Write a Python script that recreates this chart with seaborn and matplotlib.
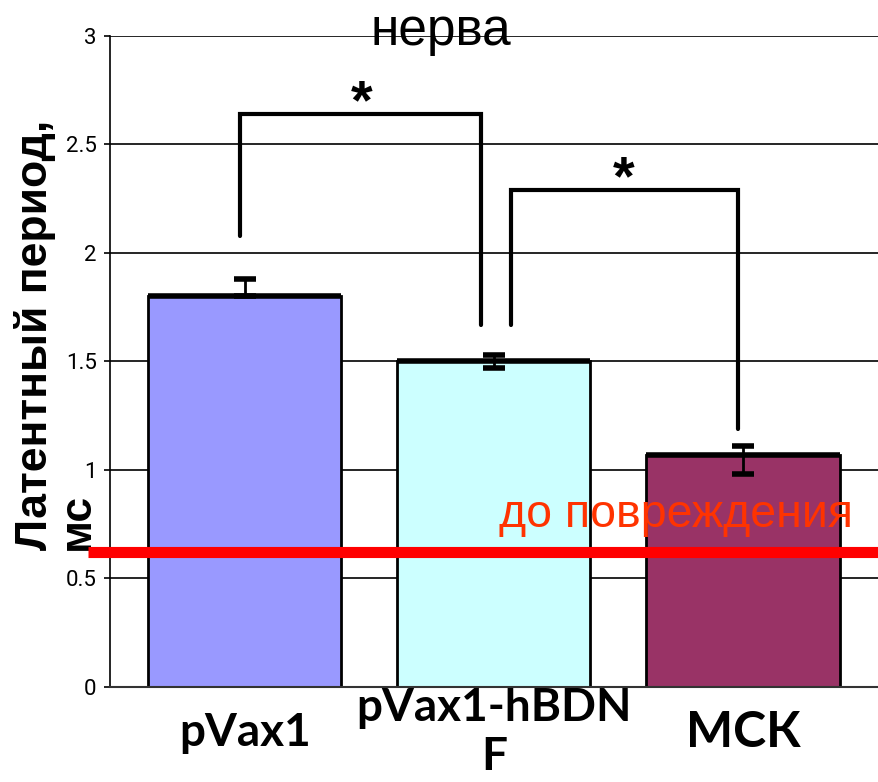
import matplotlib

matplotlib.use("Agg")
import matplotlib.pyplot as plt
import seaborn as sns

# Chart data
categories = ["pVax1", "pVax1-hBDN\nF", "МСК"]
latency = [1.80, 1.50, 1.07]
err_up = [0.08, 0.03, 0.04]
err_down = [0.0, 0.03, 0.09]
bar_colors = ["#9999ff", "#ccffff", "#993366"]
label_sizes = [33, 33, 36]

ytick_values = [0, 0.5, 1, 1.5, 2, 2.5, 3]
ytick_labels = ["0", "0.5", "1", "1.5", "2", "2.5", "3"]

baseline_level = 0.62
baseline_text = "до повреждения"

# significance brackets: (x path, y path, star x, star y)
brackets = [
    ([-0.02, -0.02, 0.95, 0.95], [2.08, 2.64, 2.64, 1.67], 0.47, 2.62),
    ([1.07, 1.07, 1.98, 1.98], [1.67, 2.29, 2.29, 1.19], 1.52, 2.27),
]

sns.set_theme(style="white")
plt.rcParams["font.family"] = ["Liberation Sans", "DejaVu Sans"]
for key in ["text.color", "axes.labelcolor", "xtick.color", "ytick.color"]:
    plt.rcParams[key] = "black"

fig = plt.figure(figsize=(8.79, 7.82), dpi=100)
ax = fig.add_axes([0.125, 0.1215, 0.875, 0.8325])

# grid behind bars
ax.set_axisbelow(True)
ax.yaxis.grid(True, color="black", linewidth=1.2)
ax.xaxis.grid(False)

sns.barplot(
    x=categories,
    y=latency,
    hue=categories,
    palette=bar_colors,
    saturation=1,
    legend=False,
    edgecolor="black",
    linewidth=2,
    width=0.775,
    errorbar=None,
    ax=ax,
)

xpos = list(range(len(categories)))
# thick dark top edge of each bar
ax.hlines(latency, [x - 0.3875 for x in xpos], [x + 0.3875 for x in xpos],
          color="black", linewidth=4, zorder=4)
ax.errorbar(xpos, latency, yerr=[err_down, err_up], fmt="none", ecolor="black",
            elinewidth=2, capsize=8, capthick=4, zorder=5)

# baseline before injury
ax.plot([-0.63, 2.54], [baseline_level, baseline_level], color="#ff0000",
        linewidth=8, solid_capstyle="butt", clip_on=False, zorder=6)
ax.text(1.02, baseline_level + 0.117, baseline_text, color="#ff3300",
        fontsize=33.5, ha="left", va="baseline", zorder=7)

for bx, by, sx, sy in brackets:
    ax.plot(bx, by, color="black", linewidth=3, solid_joinstyle="miter", zorder=6)
    ax.text(sx, sy, "*", fontsize=40, fontweight="bold", ha="center",
            va="baseline", zorder=7)

ax.set_xlim(-0.542, 2.546)
ax.set_ylim(0, 3)
ax.set_yticks(ytick_values, ytick_labels, family=["Roboto", "DejaVu Sans"],
              fontsize=16)
ax.tick_params(axis="y", length=4.5, width=1.2, color="black", pad=5, left=True)
ax.tick_params(axis="x", length=0, pad=33)
for lab, size in zip(ax.get_xticklabels(), label_sizes):
    lab.set_fontsize(size)
    lab.set_fontweight("bold")
    lab.set_family(["Lato", "Open Sans", "DejaVu Sans"])
    lab.set_va("center")
    lab.set_linespacing(1.2)
    lab.set_multialignment("center")

for side in ["top", "right"]:
    ax.spines[side].set_visible(False)
ax.spines["left"].set_color("black")
ax.spines["left"].set_linewidth(1.2)
ax.spines["bottom"].set_color("#333333")
ax.spines["bottom"].set_linewidth(1.5)

ax.set_ylabel("Латентный период,\nмс", fontsize=32, fontweight="bold",
              rotation=90, rotation_mode="default", ha="center",
              va="bottom", multialignment="left", linespacing=1.05)
ax.yaxis.set_label_coords(-0.0702, 0.21)

fig.text(0.502, 0.942, "нерва", fontsize=37, ha="center", va="baseline")

fig.savefig("out.png", dpi=100)
